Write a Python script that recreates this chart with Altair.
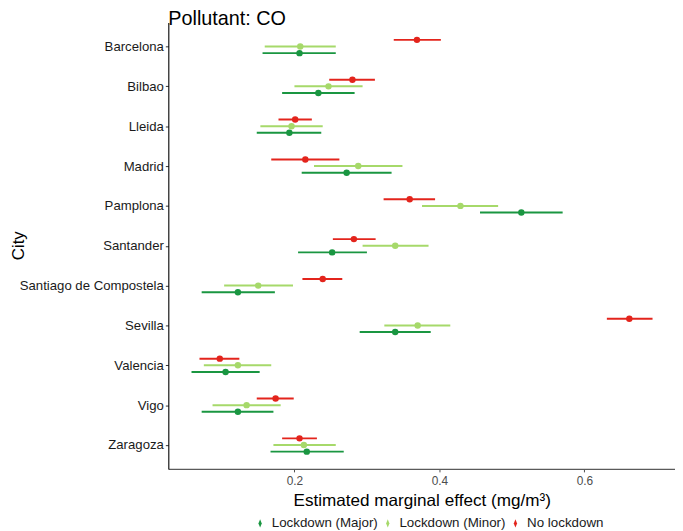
import altair as alt
import pandas as pd

cities = ["Barcelona", "Bilbao", "Lleida", "Madrid", "Pamplona", "Santander",
          "Santiago de Compostela", "Sevilla", "Valencia", "Vigo", "Zaragoza"]

# No lockdown
nl_est = [0.369, 0.280, 0.201, 0.215, 0.359, 0.282, 0.239, 0.662, 0.097, 0.174, 0.207]
nl_lo = [0.337, 0.248, 0.178, 0.168, 0.323, 0.253, 0.211, 0.631, 0.069, 0.148, 0.183]
nl_hi = [0.402, 0.311, 0.224, 0.262, 0.394, 0.312, 0.266, 0.694, 0.124, 0.199, 0.231]

# Lockdown (Minor)
mi_est = [0.208, 0.247, 0.196, 0.288, 0.429, 0.339, 0.150, 0.370, 0.122, 0.134, 0.213]
mi_lo = [0.159, 0.200, 0.153, 0.227, 0.376, 0.294, 0.103, 0.324, 0.075, 0.087, 0.171]
mi_hi = [0.257, 0.294, 0.239, 0.349, 0.481, 0.385, 0.198, 0.415, 0.168, 0.181, 0.257]

# Lockdown (Major)
ma_est = [0.207, 0.233, 0.193, 0.272, 0.513, 0.252, 0.122, 0.339, 0.105, 0.122, 0.217]
ma_lo = [0.156, 0.183, 0.148, 0.210, 0.456, 0.205, 0.072, 0.290, 0.058, 0.072, 0.167]
ma_hi = [0.257, 0.283, 0.237, 0.334, 0.570, 0.300, 0.173, 0.388, 0.152, 0.171, 0.268]

series_names = ["Lockdown (Major)", "Lockdown (Minor)", "No lockdown"]
series_colors = ["#1a9641", "#a6d96a", "#e3241c"]
offset_order = ["No lockdown", "Lockdown (Minor)", "Lockdown (Major)"]

rows = []
for name, est, lo, hi in [("No lockdown", nl_est, nl_lo, nl_hi),
                          ("Lockdown (Minor)", mi_est, mi_lo, mi_hi),
                          ("Lockdown (Major)", ma_est, ma_lo, ma_hi)]:
    for c, e, l, h in zip(cities, est, lo, hi):
        rows.append({"City": c, "Series": name, "est": e, "lo": l, "hi": h})
df = pd.DataFrame(rows)

FONT = "Liberation Sans"

xscale = alt.Scale(domain=[0.026, 0.725], nice=False, zero=False)
xaxis = alt.Axis(values=[0.2, 0.4, 0.6], format=".1f",
                 title="Estimated marginal effect (mg/m³)",
                 titleFontSize=17.3, titleFontWeight="normal", titleColor="black",
                 titleX=256, titleY=32, titleAlign="center", titleBaseline="middle",
                 labelFontSize=12, labelColor="#4d4d4d", labelPadding=4,
                 tickColor="#4d4d4d", tickSize=3, domainColor="#5a5a5a",
                 domainWidth=1.1, grid=False)
yaxis = alt.Axis(title="City", titleFontSize=17, titleFontWeight="normal",
                 titleColor="black", titleX=-146, titleY=225, titleAngle=270,
                 titleAlign="center", titleBaseline="alphabetic",
                 labelFontSize=13.3, labelColor="#1a1a1a", labelPadding=2,
                 tickColor="#333333", tickSize=3, domainColor="black",
                 domainWidth=1.1, grid=False)

base = alt.Chart(df).encode(
    y=alt.Y("City:N", sort=cities, scale=alt.Scale(type="point", padding=0.6), axis=yaxis),
    yOffset=alt.YOffset("Series:N", scale=alt.Scale(type="point", domain=offset_order,
                                                     range=[-6.7, 6.7], padding=0)),
    color=alt.Color("Series:N",
                    scale=alt.Scale(domain=series_names, range=series_colors),
                    legend=alt.Legend(title=None, orient="none", legendX=86, legendY=499,
                                      direction="horizontal",
                                      symbolType="M0,-1L0.4,0L0,1L-0.4,0Z",
                                      symbolSize=70, symbolStrokeWidth=0,
                                      labelFontSize=13.5, labelColor="#1a1a1a",
                                      labelOffset=5, columnPadding=3, padding=0)),
)

rules = base.mark_rule(strokeWidth=2).encode(
    x=alt.X("lo:Q", scale=xscale, axis=xaxis), x2="hi:Q")
points = base.mark_circle(size=42, opacity=1).encode(
    x=alt.X("est:Q", scale=xscale, axis=xaxis))

chart = alt.layer(rules, points).properties(
    width=512, height=451,
    title=alt.Title("Pollutant: CO", anchor="start", frame="group", fontSize=20,
                    fontWeight="normal", color="black", offset=2, dy=8),
    autosize=alt.AutoSizeParams(type="none"),
    padding={"left": 162, "top": 12, "right": 0, "bottom": 60},
).configure(font=FONT).configure_view(stroke=None)

chart.save("out.html", embed_options={"renderer": "svg", "actions": False})
